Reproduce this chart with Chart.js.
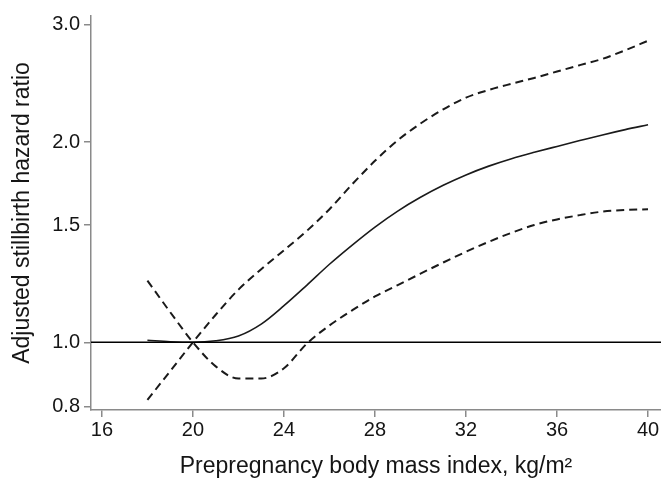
<!DOCTYPE html>
<html>
<head>
<meta charset="utf-8">
<script src="https://cdn.jsdelivr.net/npm/chart.js@4/dist/chart.umd.min.js"></script>
<style>
  html, body { margin: 0; padding: 0; background: #fff; }
  #wrap { width: 661px; height: 483px; }
</style>
</head>
<body>
<div id="wrap"><canvas id="c" width="661" height="483"></canvas></div>
<script>
// Data
const bmi = [18,19,20,21,22,23,24,25,26,27,28,29,30,31,32,33,34,35,36,37,38,39,40];
const hazardRatio = [1.007,1.002,1.0,1.005,1.022,1.065,1.135,1.218,1.31,1.40,1.49,1.575,1.652,1.722,1.785,1.84,1.888,1.93,1.97,2.01,2.05,2.088,2.123];
const upperCI = [0.819,0.905,1.0,1.10,1.20,1.288,1.375,1.47,1.585,1.728,1.874,2.012,2.132,2.24,2.332,2.395,2.447,2.497,2.553,2.61,2.668,2.748,2.84];
const lowerCI = [1.238,1.11,1.0,0.92,0.882,0.882,0.914,0.995,1.06,1.117,1.172,1.219,1.268,1.318,1.368,1.416,1.461,1.501,1.53,1.553,1.572,1.581,1.585];
const xTicks = [16,20,24,28,32,36,40];
const yTicks = [0.8,1.0,1.5,2.0,3.0];
const referenceValue = 1.0;

const X_MIN = 15.52, X_MAX = 40.57;
const Y_MIN = 0.791, Y_MAX = 3.094;

const toPts = (ys) => bmi.map((x, i) => ({ x: x, y: ys[i] }));
const ink = '#1a1a1a';
const axisGray = '#8a8a8a';
const textColor = '#151515';
const fontFamily = '"Liberation Sans", Arial, Helvetica, sans-serif';

new Chart(document.getElementById('c'), {
  type: 'line',
  data: {
    datasets: [
      {
        label: 'Reference',
        data: [{ x: X_MIN, y: referenceValue }, { x: X_MAX, y: referenceValue }],
        borderColor: '#000', borderWidth: 1.5, pointRadius: 0, tension: 0
      },
      {
        label: 'Hazard ratio',
        data: toPts(hazardRatio),
        borderColor: ink, borderWidth: 1.6, pointRadius: 0,
        cubicInterpolationMode: 'monotone'
      },
      {
        label: 'Upper 95% CI',
        data: toPts(upperCI),
        borderColor: ink, borderWidth: 2, borderDash: [8, 5], pointRadius: 0,
        cubicInterpolationMode: 'monotone'
      },
      {
        label: 'Lower 95% CI',
        data: toPts(lowerCI),
        borderColor: ink, borderWidth: 2, borderDash: [8, 5], pointRadius: 0,
        cubicInterpolationMode: 'monotone'
      }
    ]
  },
  options: {
    responsive: false,
    animation: false,
    devicePixelRatio: 1,
    layout: { padding: { top: 14, right: 0, left: 0, bottom: 0 } },
    plugins: { legend: { display: false }, tooltip: { enabled: false } },
    scales: {
      x: {
        type: 'linear',
        min: X_MIN, max: X_MAX,
        afterBuildTicks: (s) => { s.ticks = xTicks.map(v => ({ value: v })); },
        afterFit: (s) => { s.height = 73; },
        grid: { display: true, drawOnChartArea: false, drawTicks: true, tickLength: 7, color: axisGray, lineWidth: 1.5 },
        border: { display: true, color: axisGray, width: 1.5 },
        ticks: { color: textColor, font: { family: fontFamily, size: 20 }, padding: 1, maxRotation: 0,
                 callback: (v) => String(v) },
        title: { display: true, text: 'Prepregnancy body mass index, kg/m²', color: textColor,
                 font: { family: fontFamily, size: 23 }, padding: { top: 0, bottom: 3 } }
      },
      y: {
        type: 'logarithmic',
        min: Y_MIN, max: Y_MAX,
        afterBuildTicks: (s) => { s.ticks = yTicks.map(v => ({ value: v })); },
        afterFit: (s) => { s.width = 91; },
        grid: { display: true, drawOnChartArea: false, drawTicks: true, tickLength: 7, color: axisGray, lineWidth: 1.5 },
        border: { display: true, color: axisGray, width: 1.5 },
        ticks: { color: textColor, font: { family: fontFamily, size: 20 }, padding: 4,
                 callback: (v) => Number(v).toFixed(1) },
        title: { display: true, text: 'Adjusted stillbirth hazard ratio', color: textColor,
                 font: { family: fontFamily, size: 23 }, padding: { top: 9, bottom: 0 } }
      }
    }
  }
});
</script>
</body>
</html>
